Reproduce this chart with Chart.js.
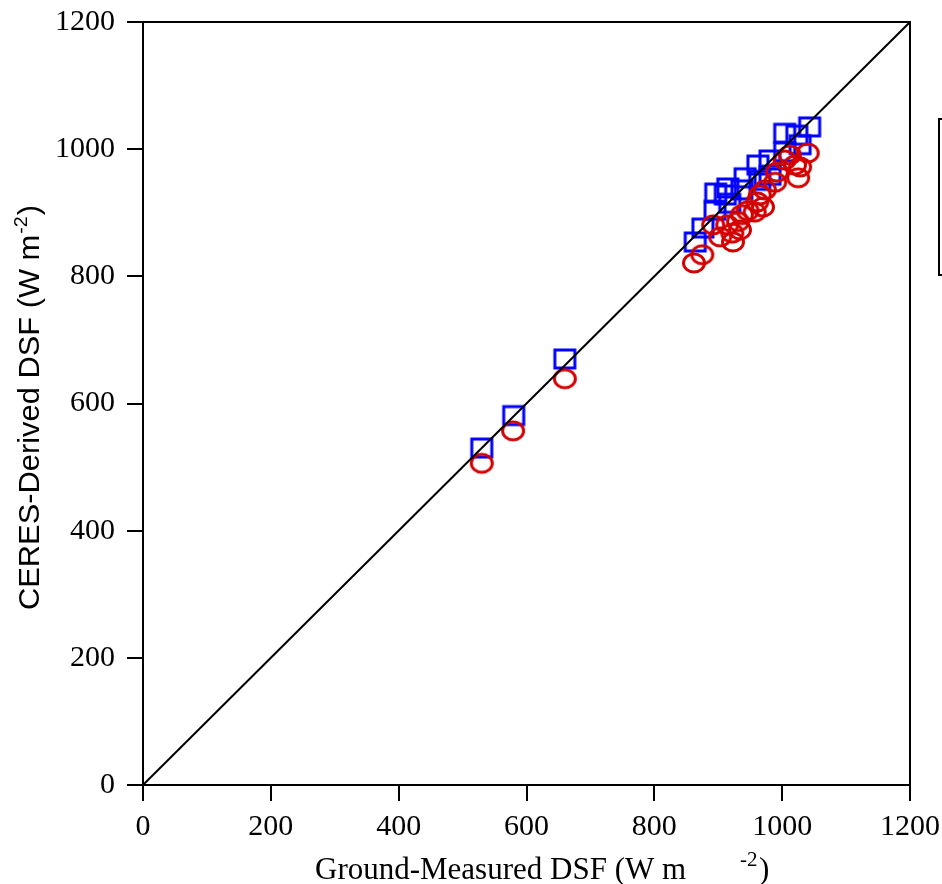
<!DOCTYPE html>
<html>
<head>
<meta charset="utf-8">
<script src="https://cdn.jsdelivr.net/npm/chart.js@4"></script>
<style>
  html, body { margin: 0; padding: 0; background: #fff; }
  #wrap { width: 942px; height: 884px; }
</style>
</head>
<body>
<div id="wrap"><canvas id="dsfChart" width="942" height="884"></canvas></div>
<script>
// ground-measured (x) vs CERES-derived (y), W m-2
const squareX = [530, 580, 660, 864, 876, 896, 915, 895, 918, 942, 962, 981, 1004, 1023, 1043, 1028, 1004, 981, 965, 937, 911];
const squareY = [530, 581, 670, 854, 876, 931, 939, 904, 915, 955, 975, 983, 1025, 1022, 1035, 1007, 996, 959, 951, 936, 928];
const circleX = [530, 579, 660, 862, 875, 892, 903, 914, 923, 922, 931, 937, 957, 961, 970, 973, 989, 992, 1004, 1012, 1020, 1025, 1028, 1040, 946, 965, 934];
const circleY = [506, 557, 639, 821, 834, 881, 862, 881, 854, 868, 886, 897, 901, 917, 909, 936, 948, 964, 983, 991, 975, 955, 972, 994, 903, 928, 873];
const oneToOne = [0, 1200];
const tickVals = [0, 200, 400, 600, 800, 1000, 1200];

function toPoints(xs, ys) {
    return xs.map((x, i) => ({ x: x, y: ys[i] }));
}

function makeMarker(kind) {
    const c = document.createElement('canvas');
    c.width = 28;
    c.height = 26;
    const ctx = c.getContext('2d');
    ctx.lineWidth = 3;
    if (kind === 'square') {
        ctx.strokeStyle = '#0000ff';
        ctx.strokeRect(4, 4, 20, 18);
    } else {
        ctx.strokeStyle = '#d40000';
        ctx.beginPath();
        ctx.ellipse(14, 13, 10.5, 9, 0, 0, Math.PI * 2);
        ctx.stroke();
    }
    return c;
}

// frame, axis titles and the clipped legend box
const decorPlugin = {
    id: 'decor',
    afterDraw(chart) {
        const ctx = chart.ctx;
        const a = chart.chartArea;
        ctx.save();
        ctx.strokeStyle = '#000';
        ctx.lineWidth = 2;
        ctx.strokeRect(a.left, a.top, a.right - a.left, a.bottom - a.top);

        // legend box, mostly outside the picture
        ctx.strokeRect(939, 119, 40, 156);

        // x title
        ctx.fillStyle = '#000';
        ctx.textBaseline = 'alphabetic';
        ctx.textAlign = 'left';
        ctx.font = '31px "Liberation Serif", "Times New Roman", serif';
        ctx.fillText('Ground-Measured DSF (W m', 315, 879);
        ctx.font = '21px "Liberation Serif", "Times New Roman", serif';
        ctx.fillText('-2', 740, 866);
        ctx.font = '31px "Liberation Serif", "Times New Roman", serif';
        ctx.fillText(')', 759, 879);

        // y title, rotated, stretched to the reference length
        ctx.translate(39, 610);
        ctx.rotate(-Math.PI / 2);
        const main = 'CERES-Derived DSF (W m';
        ctx.font = '30px "Liberation Sans", Arial, sans-serif';
        const w1 = ctx.measureText(main).width;
        ctx.font = '19px "Liberation Sans", Arial, sans-serif';
        const w2 = ctx.measureText('-2').width;
        ctx.font = '30px "Liberation Sans", Arial, sans-serif';
        const w3 = ctx.measureText(')').width;
        const k = 405 / (w1 + w2 + w3 + 2);
        ctx.scale(k, 1);
        ctx.fillText(main, 0, 0);
        ctx.font = '19px "Liberation Sans", Arial, sans-serif';
        ctx.fillText('-2', w1 + 1, -12);
        ctx.font = '30px "Liberation Sans", Arial, sans-serif';
        ctx.fillText(')', w1 + w2 + 2, 0);
        ctx.restore();
    }
};

const tickFont = { family: '"Liberation Serif", "Times New Roman", serif', size: 30 };

document.addEventListener('DOMContentLoaded', () => {
    const data = {
        datasets: [
            {
                label: '1:1',
                data: toPoints(oneToOne, oneToOne),
                showLine: true,
                borderColor: '#000',
                borderWidth: 2,
                pointRadius: 0,
                order: 0
            },
            {
                label: 'circles',
                data: toPoints(circleX, circleY),
                pointStyle: makeMarker('circle'),
                order: 1
            },
            {
                label: 'squares',
                data: toPoints(squareX, squareY),
                pointStyle: makeMarker('square'),
                order: 2
            }
        ]
    };

    new Chart(document.getElementById('dsfChart'), {
        type: 'scatter',
        data: data,
        plugins: [decorPlugin],
        options: {
            responsive: false,
            animation: false,
            layout: { padding: { left: 0, top: 22, right: 32, bottom: 0 } },
            plugins: {
                legend: { display: false },
                tooltip: { enabled: false }
            },
            scales: {
                x: {
                    type: 'linear',
                    min: 0,
                    max: 1200,
                    afterBuildTicks: (s) => { s.ticks = tickVals.map(v => ({ value: v })); },
                    afterFit: (s) => { s.height = 99; s.paddingLeft = 0; s.paddingRight = 0; },
                    grid: { drawOnChartArea: false, drawTicks: true, tickLength: 16, color: '#000', lineWidth: 2 },
                    border: { display: true, color: '#000', width: 2 },
                    ticks: { color: '#000', font: tickFont, padding: 8, maxRotation: 0, callback: (v) => String(v) }
                },
                y: {
                    type: 'linear',
                    min: 0,
                    max: 1200,
                    afterBuildTicks: (s) => { s.ticks = tickVals.map(v => ({ value: v })); },
                    afterFit: (s) => { s.width = 143; s.paddingTop = 0; s.paddingBottom = 0; },
                    grid: { drawOnChartArea: false, drawTicks: true, tickLength: 16, color: '#000', lineWidth: 2 },
                    border: { display: true, color: '#000', width: 2 },
                    ticks: { color: '#000', font: tickFont, padding: 12, callback: (v) => String(v) }
                }
            }
        }
    });
});
</script>
</body>
</html>
